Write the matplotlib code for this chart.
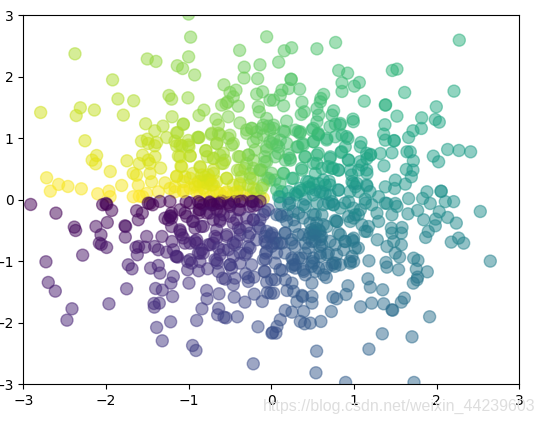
import numpy as np
import matplotlib
matplotlib.use('Agg')
import matplotlib.pyplot as plt

# points, one list per quadrant
upper_left = [
    (-1.0, 3.02), (-0.976, 2.645), (-0.056, 2.65), (-0.383, 2.43), (-1.5, 2.29), (-1.395, 2.25), (-1.0, 2.325),
    (-1.137, 2.18), (-1.073, 2.135), (-0.927, 2.03), (-0.327, 2.157), (-0.137, 2.195), (-0.33, 1.98), (-0.165, 1.97),
    (-2.375, 2.374), (-1.92, 1.95), (-1.855, 1.64), (-1.665, 1.61), (-2.79, 1.42), (-2.31, 1.496), (-2.36, 1.37),
    (-2.14, 1.46), (-1.79, 1.377), (-1.238, 1.696), (-1.206, 1.637), (-1.008, 1.658), (-0.573, 1.87), (-0.5, 1.745),
    (-0.427, 1.783), (-0.6, 1.54), (-0.528, 1.593), (-0.46, 1.675), (-0.4, 1.523), (-0.548, 1.566), (-0.875, 1.371),
    (-0.815, 1.458), (-1.2, 1.35), (-0.67, 1.31), (-0.52, 1.35), (-0.38, 1.25), (-1.52, 1.236), (-1.41, 1.122),
    (-1.31, 1.198), (-1.065, 1.225), (-0.64, 1.214), (-1.133, 1.09), (-1.266, 1.013), (-0.89, 1.013), (-0.875, 1.013),
    (-0.726, 1.062), (-0.64, 1.08), (-0.5, 1.05), (-1.57, 0.954), (-1.5, 0.986), (-1.387, 0.932), (-1.165, 0.954),
    (-1.004, 0.965), (-1.488, 0.916), (-2.254, 0.96), (-1.41, 0.878), (-1.145, 0.878), (-1.08, 0.878), (-0.996, 0.862),
    (-0.66, 0.916), (-0.46, 0.916), (-0.794, 0.797), (-1.105, 0.7), (-0.98, 0.715), (-1.556, 0.726), (-1.407, 0.7),
    (-2.113, 0.72), (-2.167, 0.645), (-2.125, 0.585), (-1.746, 0.634), (-1.597, 0.59), (-1.488, 0.645), (-1.468, 0.59),
    (-1.339, 0.515), (-1.093, 0.547), (-0.774, 0.7), (-0.7, 0.672), (-0.62, 0.726), (-0.56, 0.645), (-0.6, 0.59),
    (-0.859, 0.526), (-1.948, 0.46), (-1.67, 0.43), (-1.63, 0.4), (-1.468, 0.428), (-1.145, 0.385), (-1.044, 0.374),
    (-0.95, 0.428), (-0.8, 0.374), (-0.7, 0.428), (-0.54, 0.347), (-0.41, 0.482), (-0.32, 0.51), (-0.36, 0.374),
    (-0.258, 0.428), (-0.137, 0.482), (-0.056, 0.347), (-1.448, 0.293), (-1.609, 0.238), (-1.286, 0.276), (-1.81, 0.233),
    (-2.718, 0.358), (-2.573, 0.25), (-2.46, 0.217), (-2.673, 0.141), (-2.298, 0.179), (-2.1, 0.098), (-1.964, 0.141),
    (-1.95, 0.05), (-1.67, 0.05), (-1.597, 0.06), (-1.556, 0.05), (-1.508, 0.103), (-1.367, 0.13), (-1.226, 0.184),
    (-1.165, 0.13), (-1.065, 0.157), (-0.923, 0.211), (-0.863, 0.238), (-0.823, 0.293), (-0.762, 0.32), (-0.7, 0.238),
    (-0.903, 0.13), (-0.802, 0.157), (-0.7, 0.13), (-0.62, 0.103), (-0.54, 0.13), (-0.46, 0.103), (-0.379, 0.13),
    (-0.298, 0.076), (-0.218, 0.103), (-0.137, 0.05), (-0.097, 0.02), (-0.863, 0.076), (-0.742, 0.05), (-0.58, 0.05),
    (-0.42, 0.05), (-0.258, 0.04), (-0.298, 1.08), (-0.238, 1.16), (-0.177, 1.105), (-0.097, 1.214), (-0.056, 1.322),
    (-0.145, 1.43), (-0.157, 1.512), (-0.177, 1.718), (-0.105, 1.756), (-0.016, 1.62), (-0.036, 1.198), (-0.097, 1.05),
    (-0.218, 0.943), (-0.016, 0.943), (-0.38, 0.7), (-0.278, 0.726), (-0.298, 0.59), (-0.218, 0.645), (-0.077, 0.7),
    (-0.056, 0.618), (-0.016, 0.32), (-0.117, 0.482), (-0.218, 0.347), (-0.097, 0.238), (-0.177, 0.157), (-0.278, 0.238),
    (-0.38, 0.266), (-0.46, 0.238), (-0.056, 0.862),
]
upper_right = [
    (2.274, 2.596), (0.778, 2.558), (0.552, 2.455), (0.246, 2.472), (0.157, 2.423), (0.089, 2.238), (0.815, 2.103),
    (0.923, 2.06), (1.52, 2.125), (1.464, 2.103), (0.855, 1.902), (1.065, 1.908), (1.004, 1.848), (0.855, 1.762),
    (1.613, 1.745), (2.21, 1.767), (0.238, 1.962), (0.242, 1.957), (0.343, 1.8), (0.21, 1.81), (0.129, 1.783),
    (0.109, 1.702), (0.028, 1.62), (1.125, 1.604), (0.633, 1.713), (0.6, 1.648), (0.593, 1.593), (0.371, 1.588),
    (0.149, 1.528), (1.379, 1.539), (1.383, 1.544), (1.996, 1.512), (0.552, 1.485), (0.754, 1.447), (0.399, 1.431),
    (0.363, 1.388), (0.988, 1.312), (1.52, 1.36), (1.819, 1.333), (1.984, 1.306), (2.032, 1.263), (0.734, 1.377),
    (0.573, 1.377), (0.835, 1.241), (0.552, 1.268), (0.185, 1.279), (1.375, 1.22), (0.774, 1.23), (0.028, 1.214),
    (1.815, 1.16), (1.714, 1.122), (1.661, 1.014), (1.359, 1.068), (1.379, 0.97), (1.488, 0.959), (1.484, 0.963),
    (0.492, 1.133), (0.565, 1.062), (0.569, 1.058), (0.149, 1.117), (0.29, 1.133), (0.351, 1.106), (0.028, 1.16),
    (0.927, 0.997), (0.855, 1.052), (0.774, 1.025), (0.673, 0.997), (0.512, 0.943), (0.379, 0.916), (0.323, 0.862),
    (1.085, 0.932), (1.077, 0.862), (0.895, 0.862), (0.843, 0.77), (1.319, 0.753), (1.202, 0.737), (1.46, 0.764),
    (1.641, 0.78), (1.681, 0.78), (2.133, 0.818), (2.27, 0.802), (2.411, 0.78), (1.96, 0.71), (2.024, 0.618),
    (1.718, 0.634), (1.363, 0.553), (1.633, 0.493), (1.714, 0.482), (1.694, 0.374), (1.621, 0.255), (1.5, 0.32),
    (1.379, 0.211), (1.492, 0.184), (1.198, 0.726), (1.157, 0.672), (0.935, 0.645), (0.714, 0.699), (0.552, 0.726),
    (0.411, 0.699), (0.31, 0.86), (0.23, 0.645), (0.169, 0.645), (0.552, 0.59), (0.734, 0.51), (0.815, 0.482),
    (0.956, 0.482), (1.056, 0.482), (1.157, 0.428), (1.097, 0.564), (0.371, 0.482), (0.149, 0.428), (0.532, 0.428),
    (0.613, 0.51), (0.25, 0.347), (0.452, 0.293), (0.573, 0.266), (0.653, 0.238), (0.815, 0.157), (1.016, 0.211),
    (1.036, 0.266), (1.157, 0.222), (0.976, 0.293), (0.331, 0.13), (0.129, 0.13), (0.532, 0.157), (0.411, 0.01),
    (1.137, 0.01), (1.298, 0.05), (1.883, 0.13), (2.052, 0.141), (2.056, 0.137), (1.831, 0.022), (1.661, 0.02),
    (0.089, 0.862), (0.21, 0.726), (0.01, 0.916), (0.048, 0.699), (0.109, 0.97), (0.028, 0.997), (0.089, 0.05),
    (0.21, 0.02), (0.29, 0.1), (0.371, 0.157), (0.452, 0.211), (0.653, 0.1), (0.7, 0.3), (0.62, 0.12),
]
lower_left = [
    (-2.911, -0.076), (-2.605, -0.217), (-2.383, -0.444), (-2.367, -0.499), (-2.121, -0.434), (-1.984, -0.369),
    (-2.06, -0.569), (-2.08, -0.705), (-2.056, -0.726), (-1.992, -0.775), (-2.282, -0.9), (-2.726, -1.008),
    (-2.698, -1.344), (-2.613, -1.485), (-2.411, -1.772), (-2.472, -1.957), (-1.964, -1.691), (-1.75, -1.447),
    (-1.73, -1.057), (-1.685, -1.122), (-1.77, -0.423), (-1.762, -0.434), (-1.766, -0.607), (-2.04, -0.08),
    (-1.99, -0.076), (-2.0, -0.06), (-1.931, -0.173), (-1.629, -0.179), (-1.56, -0.217), (-1.609, -0.325),
    (-1.435, -0.081), (-1.468, -0.06), (-1.508, -0.596), (-1.323, -0.596), (-1.637, -0.775), (-1.605, -0.759),
    (-1.621, -0.894), (-1.528, -0.77), (-1.411, -0.759), (-1.367, -0.813), (-1.266, -0.851), (-1.202, -0.678),
    (-1.185, -0.813), (-1.153, -0.921), (-1.133, -0.932), (-1.46, -1.111), (-1.367, -1.068), (-1.347, -1.192),
    (-1.185, -1.247), (-1.214, -1.355), (-1.399, -1.442), (-1.319, -1.469), (-1.194, -1.572), (-0.996, -1.355),
    (-1.419, -1.686), (-1.355, -1.68), (-1.415, -1.745), (-1.218, -1.984), (-1.387, -2.076), (-1.319, -2.293),
    (-0.952, -2.369), (-0.911, -2.45), (-0.903, -1.962), (-0.839, -1.772), (-0.778, -1.61), (-0.782, -1.474),
    (-0.633, -1.528), (-0.448, -1.583), (-0.319, -1.664), (-0.206, -1.534), (-0.109, -1.653), (-0.048, -1.507),
    (-0.008, -1.518), (-0.637, -1.767), (-0.649, -1.87), (-0.573, -1.908), (-0.548, -1.919), (-0.411, -1.902),
    (-0.161, -2.065), (-0.218, -2.667), (-1.012, -1.003), (-0.964, -1.03), (-1.012, -1.138), (-0.879, -1.154),
    (-0.77, -1.122), (-0.863, -1.003), (-0.863, -0.867), (-0.661, -0.986), (-0.653, -1.03), (-0.641, -1.165),
    (-0.589, -1.274), (-0.556, -1.29), (-0.46, -1.382), (-0.44, -1.274), (-0.5, -1.057), (-0.48, -1.111),
    (-0.379, -1.03), (-0.238, -1.057), (-0.31, -1.203), (-0.278, -1.263), (-0.278, -1.328), (-0.21, -1.257),
    (-0.085, -1.165), (-0.077, -1.17), (-0.056, -1.339), (-0.069, -0.965), (-0.069, -0.867), (-1.024, -0.271),
    (-1.105, -0.163), (-1.206, -0.217), (-1.246, -0.325), (-1.226, -0.271), (-1.218, -0.26), (-1.286, -0.298),
    (-1.206, -0.434), (-1.105, -0.488), (-1.085, -0.569), (-1.044, -0.705), (-0.984, -0.705), (-0.903, -0.65),
    (-0.903, -0.705), (-0.952, -0.352), (-0.85, -0.434), (-0.923, -0.461), (-0.875, -0.217), (-0.875, -0.163),
    (-0.742, -0.732), (-0.702, -0.705), (-0.661, -0.623), (-0.54, -0.596), (-0.46, -0.705), (-0.419, -0.678),
    (-0.278, -0.759), (-0.298, -0.867), (-0.218, -0.325), (-0.137, -0.461), (-0.077, -0.596), (-0.056, -0.705),
    (-0.077, -0.19), (-0.58, -0.244), (-0.661, -0.163), (-0.5, -0.108), (-0.722, -0.081), (-0.823, -0.081),
    (-0.621, -0.325), (-0.46, -0.379), (-0.399, -0.461), (-0.379, -0.569), (-0.298, -0.434), (-0.7, -0.08),
    (-0.823, -0.867), (-0.84, -0.81), (-0.58, -0.813), (-0.62, -0.894), (-0.46, -0.921), (-0.258, -0.542),
    (-0.177, -0.65), (-0.137, -0.325), (-0.379, -0.163), (-0.258, -0.108), (-0.177, -0.08), (-1.347, -0.027),
    (-1.226, -0.027), (-1.488, -0.054), (-1.03, -0.03), (-0.883, -0.03), (-0.742, -0.035), (-0.6, -0.02),
    (-0.45, -0.03), (-0.35, -0.02), (-0.22, -0.03), (-0.52, -0.05), (-0.65, -0.06),
]
lower_right = [
    (2.528, -0.19), (2.649, -0.997), (2.327, -0.705), (2.266, -0.623), (2.177, -0.688), (2.238, -0.379),
    (2.133, -0.287), (2.032, -0.195), (1.988, -0.314), (1.984, -0.423), (1.899, -0.515), (1.867, -0.612),
    (1.843, -0.325), (1.77, -0.173), (1.653, -0.228), (1.581, -0.45), (1.573, -0.542), (1.452, -0.461),
    (1.46, -0.542), (1.282, -0.65), (1.399, -0.759), (1.48, -0.678), (1.573, -0.732), (1.5, -0.867),
    (1.552, -0.932), (1.181, -0.992), (1.387, -1.019), (1.399, -1.095), (1.54, -1.138), (1.722, -0.949),
    (1.774, -0.986), (1.754, -1.127), (1.887, -1.171), (1.77, -1.257), (1.762, -1.301), (1.718, -1.355),
    (1.169, -1.285), (1.198, -1.42), (1.347, -1.463), (0.927, -1.398), (0.903, -1.539), (0.746, -1.583),
    (0.79, -1.61), (0.726, -1.816), (1.08, -1.74), (1.214, -1.68), (1.359, -1.691), (1.46, -1.789),
    (1.468, -1.795), (1.573, -1.664), (1.609, -1.599), (1.915, -1.902), (1.343, -2.179), (1.702, -2.228),
    (1.181, -2.428), (0.548, -2.461), (0.54, -2.813), (0.899, -2.97), (1.726, -2.97), (0.6, -1.978),
    (0.472, -2.005), (0.403, -2.016), (0.351, -1.978), (0.109, -1.951), (0.069, -2.06), (0.056, -2.168),
    (0.016, -2.157), (0.008, -2.168), (0.169, -1.799), (0.25, -1.827), (0.391, -1.816), (0.492, -1.68),
    (0.492, -1.572), (0.371, -1.556), (0.379, -1.572), (0.31, -1.653), (0.25, -1.355), (0.19, -1.474),
    (0.27, -1.49), (0.169, -1.301), (0.048, -1.3), (0.004, -1.3), (0.028, -1.518), (0.129, -1.149),
    (0.048, -1.03), (0.25, -1.084), (0.29, -1.111), (0.391, -1.165), (0.411, -1.22), (0.492, -1.355),
    (0.532, -1.165), (0.665, -1.263), (0.633, -1.22), (0.573, -1.111), (0.512, -1.03), (0.593, -0.921),
    (0.734, -1.057), (0.774, -1.03), (0.835, -1.057), (0.956, -1.03), (0.996, -1.003), (0.976, -0.921),
    (0.673, -0.894), (0.875, -0.813), (1.016, -0.786), (0.976, -0.65), (0.895, -0.678), (0.774, -0.732),
    (0.835, -0.569), (0.673, -0.434), (0.774, -0.336), (0.532, -0.542), (0.593, -0.596), (0.492, -0.678),
    (0.452, -0.623), (0.613, -0.732), (0.532, -0.461), (0.411, -0.705), (0.25, -0.705), (0.169, -0.542),
    (0.27, -0.325), (0.19, -0.244), (0.331, -0.217), (0.411, -0.108), (0.532, -0.244), (0.613, -0.244),
    (0.109, -0.244), (0.069, -0.705), (0.129, -0.705), (0.008, -0.542), (0.028, -0.705), (0.331, -0.949),
    (0.25, -0.949), (0.411, -0.867), (0.492, -1.003), (0.29, -1.057), (1.157, -0.515), (1.097, -0.407),
    (1.016, -0.244), (0.996, -0.298), (1.177, -0.434), (1.298, -0.352), (1.278, -0.217), (1.218, -0.081),
    (1.137, -0.054), (1.379, -0.054), (1.52, -0.108), (1.46, -0.244), (1.077, -0.163), (0.956, -0.352),
    (0.935, -0.271), (0.835, -0.136), (0.754, -0.081), (0.694, -0.054), (0.996, -0.623), (0.109, -0.054),
    (0.21, -0.081), (0.552, -0.054), (0.512, -0.515), (0.573, -0.488), (0.472, -0.542), (0.593, -0.65),
    (0.048, -0.623), (0.734, -0.03), (0.935, -0.03), (1.399, -0.06), (1.5, -0.06), (1.923, -0.06),
    (2.105, -0.03), (2.206, -0.03),
]
center_upper_left = [
    (-1.064, 1.233), (-1.144, 1.092), (-0.882, 1.016), (-0.721, 1.081), (-0.62, 1.054), (-0.52, 1.0), (-0.66, 0.918),
    (-0.479, 0.891), (-0.58, 0.756), (-0.7, 0.675), (-0.79, 0.8), (-0.983, 0.713), (-1.124, 0.713), (-1.084, 0.539),
    (-1.003, 0.891), (-1.104, 0.891), (-0.862, 0.539), (-0.58, 0.593), (-0.7, 0.485), (-0.822, 0.322), (-0.761, 0.404),
    (-0.66, 0.295), (-0.54, 0.35), (-1.144, 0.377), (-0.983, 0.35), (-1.064, 0.295), (-1.165, 0.214), (-0.983, 0.187),
    (-0.822, 0.187), (-0.66, 0.133), (-0.56, 0.106), (-1.064, 0.133), (-0.378, 0.485), (-0.277, 0.729), (-0.298, 1.135),
    (-0.237, 1.162), (-0.177, 1.0), (-0.076, 0.62), (-0.035, 0.35), (-0.217, 0.512), (-0.257, 0.35), (-0.398, 0.702),
    (-0.378, 0.241), (-0.217, 0.187), (-0.116, 0.187), (-0.419, 0.133), (-0.136, 0.485), (-0.015, 1.135), (-0.116, 1.162),
    (-0.056, 0.81), (-0.197, 0.81), (-0.882, 0.295), (-0.781, 0.268), (-0.741, 0.322), (-0.721, 0.241), (-0.842, 0.404),
    (-0.923, 0.241),
]
center_upper_right = [
    (0.165, 1.108), (0.327, 1.108), (0.569, 1.081), (0.508, 1.162), (0.347, 1.08), (0.831, 1.217), (0.71, 1.19),
    (0.992, 1.27), (0.911, 1.027), (0.669, 0.973), (0.508, 0.946), (0.387, 0.892), (0.065, 0.892), (0.186, 0.919),
    (0.085, 0.756), (0.226, 0.675), (0.407, 0.702), (0.569, 0.756), (0.508, 0.593), (0.71, 0.675), (0.851, 0.783),
    (0.932, 0.648), (0.75, 0.512), (0.811, 0.485), (0.69, 0.539), (1.153, 0.756), (1.073, 0.62), (0.972, 0.404),
    (1.153, 0.485), (0.367, 0.512), (0.145, 0.431), (0.266, 0.35), (0.428, 0.295), (0.508, 0.268), (0.629, 0.322),
    (0.065, 0.16), (0.206, 0.133), (0.347, 0.187), (0.468, 0.187), (0.589, 0.133), (0.004, 0.431), (0.044, 0.322),
    (0.105, 0.268), (0.811, 0.16), (0.992, 0.268), (1.053, 0.133), (1.153, 0.241), (1.194, 0.133), (0.71, 0.241),
    (0.952, 0.133), (0.508, 0.078), (0.307, 0.078), (0.105, 0.05), (0.71, 0.078),
]
center_lower_left = [
    (-1.205, -0.296), (-1.044, -0.215), (-0.983, -0.052), (-0.862, -0.161), (-0.741, -0.052), (-0.62, -0.188),
    (-0.499, -0.08), (-0.398, -0.161), (-0.943, -0.35), (-0.822, -0.432), (-1.104, -0.513), (-1.064, -0.621),
    (-0.923, -0.676), (-0.761, -0.73), (-0.681, -0.594), (-0.54, -0.567), (-0.439, -0.73), (-0.378, -0.486),
    (-0.257, -0.784), (-0.156, -0.432), (-0.056, -0.513), (-0.096, -0.242), (-0.217, -0.323), (-0.298, -0.296),
    (-0.499, -0.269), (-0.62, -0.35), (-0.66, -0.486), (-0.781, -0.215), (-0.983, -0.974), (-0.681, -0.974),
    (-0.519, -0.811), (-0.64, -0.784), (-0.499, -1.055), (-0.318, -0.892), (-0.056, -0.838), (-0.076, -0.676),
    (-0.015, -0.594), (-1.144, -0.92), (-0.882, -0.865), (-0.378, -0.865), (-0.277, -0.594), (-0.096, -0.974),
    (-0.217, -0.106), (-0.036, -0.161), (-0.62, -0.052), (-0.862, -0.052), (-0.378, -0.025), (-0.237, -0.025),
    (-0.136, -0.025), (-0.741, -0.215), (-0.701, -0.323), (-0.419, -0.323),
]
center_lower_right = [
    (0.004, -0.567), (0.105, -0.703), (0.065, -0.242), (0.266, -0.188), (0.387, -0.296), (0.186, -0.35), (0.286, -0.432),
    (0.508, -0.242), (0.589, -0.513), (0.508, -0.567), (0.488, -0.486), (0.609, -0.594), (0.528, -0.676), (0.387, -0.567),
    (0.246, -0.649), (0.286, -0.757), (0.448, -0.784), (0.589, -0.865), (0.75, -1.028), (0.79, -0.35), (0.794, -0.354),
    (0.79, -0.892), (0.891, -0.676), (0.992, -0.676), (1.053, -0.784), (1.133, -0.513), (1.053, -0.242), (0.992, -0.134),
    (0.629, -0.08), (0.75, -0.08), (0.891, -0.052), (0.387, -0.08), (0.226, -0.052), (0.125, -0.269), (0.69, -0.865),
    (0.508, -0.947), (0.367, -0.947), (0.266, -0.974), (0.165, -0.865), (0.77, -1.082), (0.952, -1.001), (0.669, -1.11),
    (0.488, -1.082), (0.105, -1.136), (0.387, -1.136), (0.266, -1.055), (0.589, -0.757), (0.71, -0.676), (0.811, -0.54),
    (0.629, -0.405), (0.468, -0.378), (0.549, -0.378), (0.327, -0.567), (0.165, -0.54), (0.004, -0.757), (0.065, -0.865),
]

points = np.array(upper_left + upper_right + lower_left + lower_right
                  + center_upper_left + center_upper_right + center_lower_left + center_lower_right)
X = points[:, 0]
Y = points[:, 1]
T = np.arctan2(Y, X)  # colour follows the angle

fig = plt.figure(figsize=(5.45, 4.25), dpi=100)
ax = fig.add_axes([23.3 / 545, 40.7 / 425, 496 / 545, 369 / 425])
ax.scatter(X, Y, s=75, c=T, alpha=0.5)
ax.set_xlim(-3, 3)
ax.set_ylim(-3, 3)

# csdn watermark
fig.text(535 / 545, 18.3 / 425, 'https://blog.csdn.net/weixin_44239603', ha='right', va='center',
         fontsize=11.5, color='#dedede', family='Liberation Sans')

fig.savefig('out.png', dpi=100)
